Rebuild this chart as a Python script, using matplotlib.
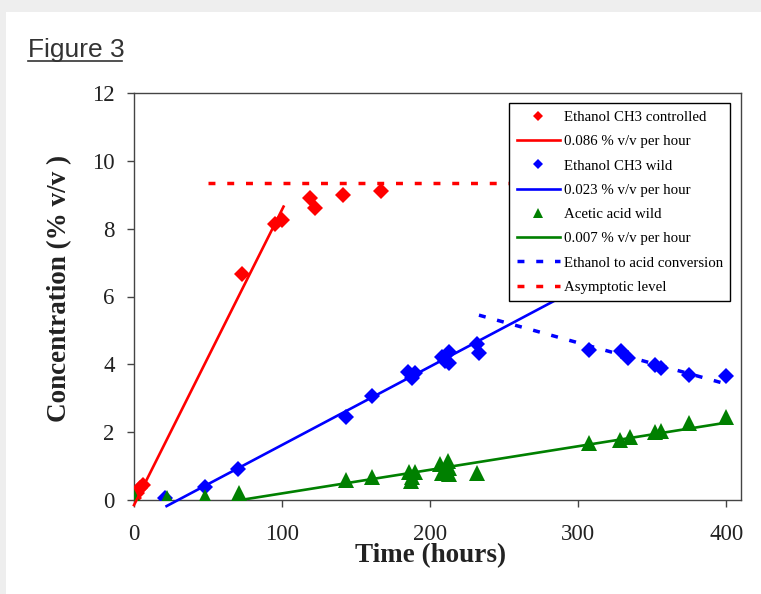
import matplotlib
matplotlib.use("Agg")
import matplotlib.pyplot as plt
from matplotlib.patches import Rectangle
from matplotlib.lines import Line2D

# ---- data ----
red_t = [0, 2, 4, 6, 73, 95, 100, 119, 122, 141, 167]
red_c = [0.05, 0.2, 0.35, 0.45, 6.65, 8.15, 8.25, 8.9, 8.6, 9.0, 9.1]

blue_t = [21, 48, 70, 143, 161, 185, 188, 190, 208, 210, 213, 213, 232, 233,
          307, 329, 334, 352, 356, 375, 400]
blue_c = [0.05, 0.38, 0.92, 2.44, 3.06, 3.78, 3.6, 3.74, 4.23, 4.1, 4.37, 4.03, 4.6, 4.33,
          4.42, 4.38, 4.18, 3.98, 3.88, 3.69, 3.66]

green_t = [0, 22, 48, 71, 143, 161, 186, 187, 188, 190, 207, 208, 212, 213, 213, 232,
           307, 328, 335, 352, 356, 375, 400]
green_c = [0.1, 0.05, 0.1, 0.2, 0.58, 0.68, 0.82, 0.55, 0.68, 0.83, 1.05, 0.8, 1.15, 0.78, 0.93, 0.79,
           1.67, 1.77, 1.87, 2.0, 2.02, 2.26, 2.46]

red_fit_t = [0, 101]
red_fit_c = [-0.15, 8.65]
blue_fit_t = [22, 305]
blue_fit_c = [-0.18, 6.36]
green_fit_t = [72, 400]
green_fit_c = [0.0, 2.28]
conv_t = [233, 400]
conv_c = [5.45, 3.42]
asym_t = [50, 400]
asym_c = [9.35, 9.35]

xticks = [0, 100, 200, 300, 400]
yticks = [0, 2, 4, 6, 8, 10, 12]

labels = ["Ethanol CH3 controlled", "0.086 % v/v per hour", "Ethanol CH3 wild",
          "0.023 % v/v per hour", "Acetic acid wild", "0.007 % v/v per hour",
          "Ethanol to acid conversion", "Asymptotic level"]

W, H = 761, 594
fig = plt.figure(figsize=(W / 100, H / 100), dpi=100)
fig.patch.set_facecolor("#eeeeee")
fig.patches.append(Rectangle((6 / W, 0), 1, (H - 12) / H, transform=fig.transFigure,
                             facecolor="white", edgecolor="none", zorder=-10))

ax = fig.add_axes([134 / W, (H - 500) / H, (741 - 134) / W, (500 - 93) / H])
ax.set_facecolor("white")

serif = "Liberation Serif"
RED, BLUE, GREEN = "#ff0000", "#0000ff", "#008000"
dash = (0, (2.0, 3.4))

h1, = ax.plot(red_t, red_c, "D", color=RED, ms=8.3, mew=0, zorder=3)
h2, = ax.plot(red_fit_t, red_fit_c, "-", color=RED, lw=1.9, clip_on=False, zorder=4)
h3, = ax.plot(blue_t, blue_c, "D", color=BLUE, ms=8.3, mew=0, zorder=3)
h4, = ax.plot(blue_fit_t, blue_fit_c, "-", color=BLUE, lw=1.9, clip_on=False, zorder=4)
h5, = ax.plot(green_t, green_c, "^", color=GREEN, ms=11, mew=0, zorder=3)
h6, = ax.plot(green_fit_t, green_fit_c, "-", color=GREEN, lw=1.9, zorder=4)
h7, = ax.plot(conv_t, conv_c, color=BLUE, lw=2.5, linestyle=dash, zorder=4)
h8, = ax.plot(asym_t, asym_c, color=RED, lw=2.5, linestyle=dash, zorder=4)

ax.set_xlim(0, 410)
ax.set_ylim(0, 12)
ax.set_xticks(xticks)
ax.set_yticks(yticks)
for s in ax.spines.values():
    s.set_color("#444444")
    s.set_linewidth(1.0)
ax.tick_params(axis="x", direction="out", length=5, width=1, color="#444444",
               pad=12, labelsize=16.5, labelcolor="#222222")
ax.tick_params(axis="y", direction="out", length=5, width=1, color="#444444",
               pad=9, labelsize=16.5, labelcolor="#222222")
for lab in ax.get_xticklabels() + ax.get_yticklabels():
    lab.set_family(serif)

ax.set_xlabel("Time (hours)", fontsize=19.5, fontweight="bold", family=serif, color="#222222")
ax.set_ylabel("Concentration (% v/v )", fontsize=19.5, fontweight="bold", family=serif, color="#222222")
ax.xaxis.set_label_coords(0.489, -0.105)
ax.yaxis.set_label_coords(-0.102, 0.521)

leg = ax.legend([h1, h2, h3, h4, h5, h6, h7, h8], labels, loc="upper right",
                bbox_to_anchor=(0.982, 0.975), borderaxespad=0, numpoints=1,
                markerscale=0.65, handlelength=2.9, handletextpad=0.25,
                borderpad=0.5, labelspacing=0.73, fancybox=False, framealpha=1,
                edgecolor="black", prop={"family": serif, "size": 10.7})
leg.get_frame().set_linewidth(1.0)
leg.set_zorder(10)

fig.text(28 / W, 1 - 57 / H, "Figure 3", fontsize=19, family="Liberation Sans",
         color="#333333", va="baseline", ha="left")
fig.lines.append(Line2D([28 / W, 122 / W], [1 - 61 / H, 1 - 61 / H],
                        transform=fig.transFigure, color="#333333", lw=1.2))

fig.savefig("out.png", dpi=100, facecolor=fig.get_facecolor())
